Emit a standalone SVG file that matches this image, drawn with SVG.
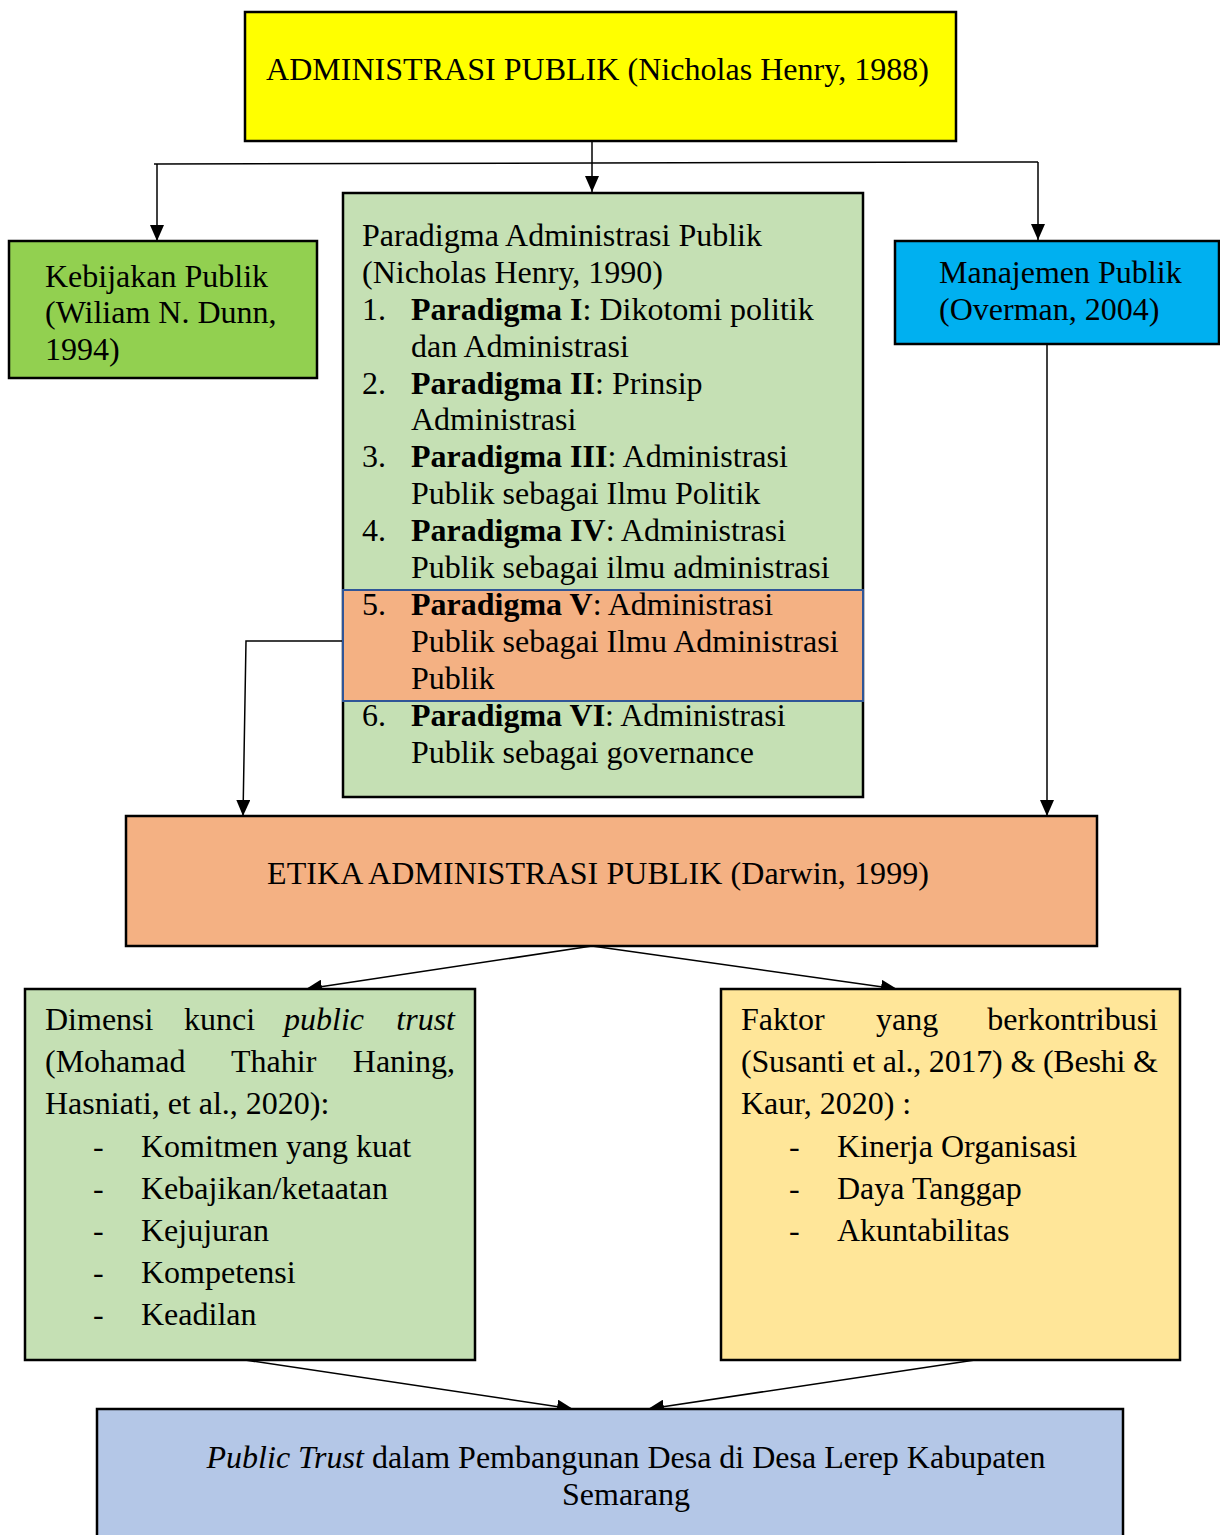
<svg xmlns="http://www.w3.org/2000/svg" width="1220" height="1535" viewBox="0 0 1220 1535">
<style>
text{font-family:"Liberation Serif","Times New Roman",serif;font-size:32px;fill:#000}
.box{stroke:#000;stroke-width:2.5}
.conn{stroke:#000;stroke-width:1.5;fill:none}
.b{font-weight:bold}
.i{font-style:italic}
</style>
<defs>
<marker id="ah" markerWidth="16" markerHeight="14" refX="16" refY="7" orient="auto" markerUnits="userSpaceOnUse">
<path d="M0,0 L16,7 L0,14 Z" fill="#000"/>
</marker>
</defs>
<rect width="1220" height="1535" fill="#fff"/>

<g id="connectors">
<line class="conn" x1="592" y1="141" x2="592" y2="192" marker-end="url(#ah)"/>
<polyline class="conn" points="154,164 1038,162"/>
<line class="conn" x1="157" y1="164" x2="157" y2="241" marker-end="url(#ah)"/>
<line class="conn" x1="1038" y1="162" x2="1038" y2="240" marker-end="url(#ah)"/>
<polyline class="conn" points="343,641 246,641 243,816" marker-end="url(#ah)"/>
<line class="conn" x1="1047" y1="345" x2="1047" y2="816" marker-end="url(#ah)"/>
<line class="conn" x1="592" y1="946" x2="306" y2="989" marker-end="url(#ah)"/>
<line class="conn" x1="592" y1="946" x2="897" y2="989" marker-end="url(#ah)"/>
<line class="conn" x1="245" y1="1360" x2="573" y2="1409" marker-end="url(#ah)"/>
<line class="conn" x1="975" y1="1360" x2="648" y2="1409" marker-end="url(#ah)"/>
</g>

<g id="administrasi-publik">
<rect class="box" x="245" y="12" width="711" height="129" fill="#FFFF00"/>
<text x="266" y="80" textLength="663">ADMINISTRASI PUBLIK (Nicholas Henry, 1988)</text>
</g>

<g id="kebijakan-publik">
<rect class="box" x="9" y="241" width="308" height="137" fill="#92D050"/>
<text x="45" y="287">Kebijakan Publik</text>
<text x="45" y="323">(Wiliam N. Dunn,</text>
<text x="45" y="360">1994)</text>
</g>

<g id="paradigma">
<rect class="box" x="343" y="193" width="520" height="604" fill="#C5E0B4"/>
<rect x="343" y="590" width="520" height="111" fill="#F4B183" stroke="#2F5597" stroke-width="2"/>
<text x="362" y="246">Paradigma Administrasi Publik</text>
<text x="362" y="283">(Nicholas Henry, 1990)</text>
<text x="362" y="320">1.</text>
<text x="411" y="320"><tspan class="b">Paradigma I</tspan>: Dikotomi politik</text>
<text x="411" y="357">dan Administrasi</text>
<text x="362" y="394">2.</text>
<text x="411" y="394"><tspan class="b">Paradigma II</tspan>: Prinsip</text>
<text x="411" y="430">Administrasi</text>
<text x="362" y="467">3.</text>
<text x="411" y="467"><tspan class="b">Paradigma III</tspan>: Administrasi</text>
<text x="411" y="504">Publik sebagai Ilmu Politik</text>
<text x="362" y="541">4.</text>
<text x="411" y="541"><tspan class="b">Paradigma IV</tspan>: Administrasi</text>
<text x="411" y="578">Publik sebagai ilmu administrasi</text>
<text x="362" y="615">5.</text>
<text x="411" y="615"><tspan class="b">Paradigma V</tspan>: Administrasi</text>
<text x="411" y="652">Publik sebagai Ilmu Administrasi</text>
<text x="411" y="689">Publik</text>
<text x="362" y="726">6.</text>
<text x="411" y="726"><tspan class="b">Paradigma VI</tspan>: Administrasi</text>
<text x="411" y="763">Publik sebagai governance</text>
</g>

<g id="manajemen-publik">
<rect class="box" x="895" y="241" width="324" height="103" fill="#00B0F0"/>
<text x="939" y="283">Manajemen Publik</text>
<text x="939" y="320">(Overman, 2004)</text>
</g>

<g id="etika">
<rect class="box" x="126" y="816" width="971" height="130" fill="#F4B183"/>
<text x="267" y="884" textLength="662">ETIKA ADMINISTRASI PUBLIK (Darwin, 1999)</text>
</g>

<g id="dimensi">
<rect class="box" x="25" y="989" width="450" height="371" fill="#C5E0B4"/>
<text x="45" y="1030">Dimensi</text>
<text x="184" y="1030">kunci</text>
<text x="284" y="1030" class="i">public</text>
<text x="455" y="1030" class="i" text-anchor="end">trust</text>
<text x="45" y="1072">(Mohamad</text>
<text x="231" y="1072">Thahir</text>
<text x="455" y="1072" text-anchor="end">Haning,</text>
<text x="45" y="1114">Hasniati, et al., 2020):</text>
<text x="93" y="1157">-</text><text x="141" y="1157">Komitmen yang kuat</text>
<text x="93" y="1199">-</text><text x="141" y="1199">Kebajikan/ketaatan</text>
<text x="93" y="1241">-</text><text x="141" y="1241">Kejujuran</text>
<text x="93" y="1283">-</text><text x="141" y="1283">Kompetensi</text>
<text x="93" y="1325">-</text><text x="141" y="1325">Keadilan</text>
</g>

<g id="faktor">
<rect class="box" x="721" y="989" width="459" height="371" fill="#FFE699"/>
<text x="741" y="1030">Faktor</text>
<text x="876" y="1030">yang</text>
<text x="1158" y="1030" text-anchor="end">berkontribusi</text>
<text x="741" y="1072" textLength="417">(Susanti et al., 2017) &amp; (Beshi &amp;</text>
<text x="741" y="1114">Kaur, 2020) :</text>
<text x="789" y="1157">-</text><text x="837" y="1157">Kinerja Organisasi</text>
<text x="789" y="1199">-</text><text x="837" y="1199">Daya Tanggap</text>
<text x="789" y="1241">-</text><text x="837" y="1241">Akuntabilitas</text>
</g>

<g id="public-trust">
<rect class="box" x="97" y="1409" width="1026" height="140" fill="#B4C7E7"/>
<text x="626" y="1468" text-anchor="middle"><tspan class="i">Public Trust</tspan> dalam Pembangunan Desa di Desa Lerep Kabupaten</text>
<text x="626" y="1505" text-anchor="middle">Semarang</text>
</g>
</svg>
